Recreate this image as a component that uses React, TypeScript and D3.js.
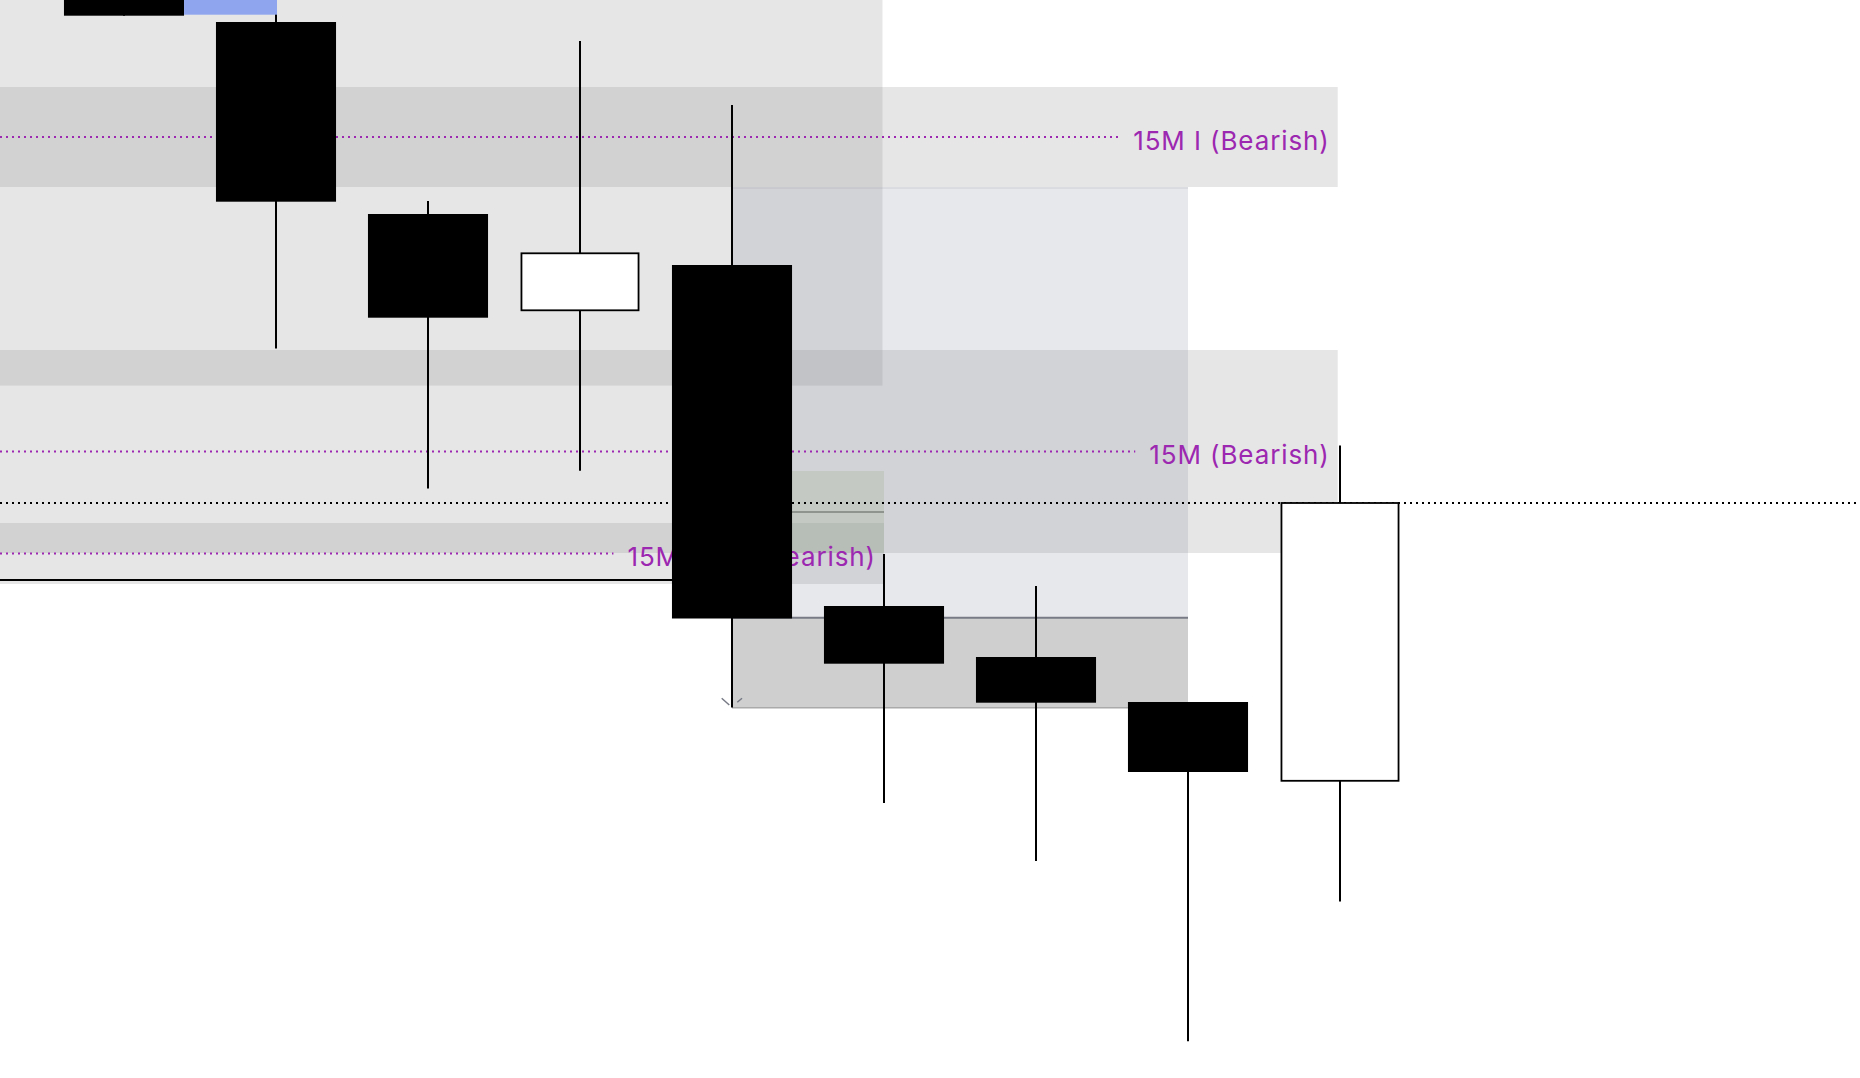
import React, { useEffect, useRef } from "react";
import * as d3 from "d3";

const W = 1860;
const H = 1078;

// Candles (index along time axis)
const candleIndex = [0, 1, 2, 3, 4, 5, 6, 7, 8];
const opens = [2354.0, 2347.8, 2328.6, 2318.97, 2323.5, 2289.4, 2284.3, 2279.8, 2271.92];
const highs = [2356.0, 2349.2, 2329.9, 2345.9, 2339.5, 2294.6, 2291.4, 2279.8, 2305.45];
const lows = [2348.43, 2315.15, 2301.15, 2302.92, 2279.25, 2269.7, 2263.9, 2245.87, 2259.85];
const closes = [2348.43, 2329.83, 2318.23, 2324.67, 2288.15, 2283.63, 2279.73, 2272.8, 2299.7];

// Labelled order-block bands
const obLabels = ["15M I (Bearish)", "15M (Bearish)", "15M I (Bearish)"];
const obTop = [2341.3, 2315.0, 2297.7];
const obBottom = [2331.3, 2294.7, 2291.6];
const obStart = [-1, -1, -1];
const obEnd = [7.985, 7.985, 5];

// Plain zones
const bigZoneTop = 2360;
const bigZoneBottom = 2311.44;
const bigZoneStart = -1;
const bigZoneEnd = 4.99;

const blueZoneTop = 2331.23;
const blueZoneBottom = 2288.23;
const blueZoneStart = 4;
const blueZoneEnd = 7;

const fvgTop = 2302.9;
const fvgBottom = 2294.7;
const fvgStart = 4;
const fvgEnd = 5;

const grayBoxTop = 2288.23;
const grayBoxBottom = 2279.23;
const grayBoxStart = 4;
const grayBoxEnd = 7;

const highlightTop = 2360;
const highlightBottom = 2348.53;
const highlightEnd = 1;

const levelPrice = 2292.0;
const levelStart = -1;
const levelEnd = 4;

export default function App() {
  const ref = useRef<SVGSVGElement>(null);

  useEffect(() => {
    const svg = d3.select(ref.current);
    svg.selectAll("*").remove();

    const x = d3.scaleLinear().domain([0, 8]).range([124, 1340]);
    const y = d3.scaleLinear().domain([2350, 2242.2]).range([0, H]);
    const step = x(1) - x(0);
    const bw = step * 0.79;

    const gray = "rgba(128,128,128,0.2)";
    const purple = "#9c27b0";

    const box = (
      g: any,
      x0: number,
      x1: number,
      top: number,
      bottom: number,
      fill: string
    ) =>
      g
        .append("rect")
        .attr("x", x(x0))
        .attr("y", y(top))
        .attr("width", x(x1) - x(x0))
        .attr("height", y(bottom) - y(top))
        .attr("fill", fill);

    const gz = svg.append("g");
    box(gz, bigZoneStart, bigZoneEnd, bigZoneTop, bigZoneBottom, gray);
    obLabels.forEach((_, i) => box(gz, obStart[i], obEnd[i], obTop[i], obBottom[i], gray));
    box(gz, blueZoneStart, blueZoneEnd, blueZoneTop, blueZoneBottom, "rgba(120,125,145,0.18)");
    gz.append("line")
      .attr("x1", x(blueZoneStart))
      .attr("x2", x(blueZoneEnd))
      .attr("y1", y(blueZoneTop))
      .attr("y2", y(blueZoneTop))
      .attr("stroke", "rgba(120,125,145,0.22)")
      .attr("stroke-width", 1.5);

    box(gz, fvgStart, fvgEnd, fvgTop, fvgBottom, "rgba(140,165,125,0.2)");
    gz.append("line")
      .attr("x1", x(fvgStart))
      .attr("x2", x(fvgEnd))
      .attr("y1", y((fvgTop + fvgBottom) / 2))
      .attr("y2", y((fvgTop + fvgBottom) / 2))
      .attr("stroke", "#8f948f")
      .attr("stroke-width", 2);

    box(gz, grayBoxStart, grayBoxEnd, grayBoxTop, grayBoxBottom, "rgba(128,128,128,0.38)");
    gz.append("line")
      .attr("x1", x(grayBoxStart))
      .attr("x2", x(grayBoxEnd))
      .attr("y1", y(grayBoxTop))
      .attr("y2", y(grayBoxTop))
      .attr("stroke", "#787b86")
      .attr("stroke-width", 2);
    gz.append("line")
      .attr("x1", x(grayBoxStart))
      .attr("x2", x(grayBoxEnd))
      .attr("y1", y(grayBoxBottom))
      .attr("y2", y(grayBoxBottom))
      .attr("stroke", "#aaaaaa")
      .attr("stroke-width", 1.5);

    // labels + midlines
    const gl = svg.append("g");
    obLabels.forEach((lab, i) => {
      const mid = (obTop[i] + obBottom[i]) / 2;
      const t = gl
        .append("text")
        .attr("x", x(obEnd[i]) - 8)
        .attr("y", y(mid) + 12.5)
        .attr("text-anchor", "end")
        .attr("font-family", "Inter, 'Noto Sans', sans-serif")
        .attr("font-size", 26)
        .attr("letter-spacing", 0.9)
        .attr("word-spacing", i === 2 ? 26 : 0)
        .attr("fill", purple)
        .text(lab);
      const bb = (t.node() as SVGTextElement).getBBox();
      gl.append("line")
        .attr("x1", 0)
        .attr("x2", bb.x - 14)
        .attr("y1", y(mid))
        .attr("y2", y(mid))
        .attr("stroke", purple)
        .attr("stroke-width", 2)
        .attr("stroke-dasharray", "2 4");
    });

    // level line
    gl.append("line")
      .attr("x1", x(levelStart))
      .attr("x2", x(levelEnd))
      .attr("y1", y(levelPrice))
      .attr("y2", y(levelPrice))
      .attr("stroke", "#000")
      .attr("stroke-width", 2);

    // last price line
    const last = closes[closes.length - 1];
    gl.append("line")
      .attr("x1", 0)
      .attr("x2", W)
      .attr("y1", y(last))
      .attr("y2", y(last))
      .attr("stroke", "#000")
      .attr("stroke-width", 2)
      .attr("stroke-dasharray", "2 4");

    // candles
    const gc = svg.append("g");
    candleIndex.forEach((i) => {
      const o = opens[i];
      const c = closes[i];
      const bull = c > o;
      gc.append("line")
        .attr("x1", x(i))
        .attr("x2", x(i))
        .attr("y1", y(highs[i]))
        .attr("y2", y(lows[i]))
        .attr("stroke", "#000")
        .attr("stroke-width", 2);
      const w = bull ? bw - 3 : bw;
      gc.append("rect")
        .attr("x", x(i) - w / 2)
        .attr("y", y(Math.max(o, c)))
        .attr("width", w)
        .attr("height", Math.abs(y(o) - y(c)))
        .attr("fill", bull ? "#fff" : "#000")
        .attr("stroke", "#000")
        .attr("stroke-width", bull ? 1.8 : 0);
    });

    // highlight rect
    svg
      .append("rect")
      .attr("x", x(0) + bw / 2)
      .attr("y", y(highlightTop))
      .attr("width", x(highlightEnd) + 1 - (x(0) + bw / 2))
      .attr("height", y(highlightBottom) - y(highlightTop))
      .attr("fill", "#8fa6ee");

    // small chevron marker
    const cx = x(grayBoxStart);
    const by = y(grayBoxBottom);
    svg
      .append("path")
      .attr(
        "d",
        `M${cx - 10.3},${by - 9.4}L${cx - 2.7},${by - 2.7}M${cx + 5.3},${by - 5.4}L${cx + 10},${by - 9.4}`
      )
      .attr("stroke", "#787b86")
      .attr("stroke-width", 1.5)
      .attr("fill", "none");
  }, []);

  return (
    <div style={{ position: "fixed", left: 0, top: 0, width: W, height: H, background: "#fff" }}>
      <svg ref={ref} width={W} height={H} style={{ display: "block" }} />
    </div>
  );
}
